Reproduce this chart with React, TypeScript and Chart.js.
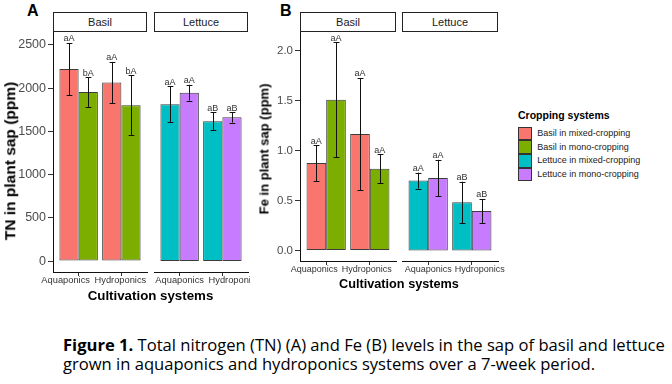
import React, { useEffect, useRef } from 'react';
import { Chart, registerables } from 'chart.js';

Chart.register(...registerables);

const FONT = "'Liberation Sans', Arial, Helvetica, sans-serif";
const CAPTION_FONT = "'Open Sans', 'Noto Sans', sans-serif";
Chart.defaults.font.family = FONT;

// ---------- data ----------
const systems = ['Aquaponics', 'Hydroponics'];
const crops = ['Basil', 'Lettuce'];
const croppingLabels = [
  'Basil in mixed-cropping',
  'Basil in mono-cropping',
  'Lettuce in mixed-cropping',
  'Lettuce in mono-cropping',
];
const croppingColors = ['#F8766D', '#7CAE00', '#00BFC4', '#C77CFF'];

// Panel A: total nitrogen (ppm)
const tnBasilMixed = [2220, 2064];
const tnBasilMono = [1955, 1802];
const tnLettuceMixed = [1813, 1617];
const tnLettuceMono = [1948, 1663];
const tnBasilMixedErr = [303, 239];
const tnBasilMonoErr = [172, 345];
const tnLettuceMixedErr = [206, 103];
const tnLettuceMonoErr = [91, 61];
const tnBasilMixedSig = ['aA', 'aA'];
const tnBasilMonoSig = ['bA', 'bA'];
const tnLettuceMixedSig = ['aA', 'aB'];
const tnLettuceMonoSig = ['aA', 'aB'];
const tnTicks = [0, 500, 1000, 1500, 2000, 2500];

// Panel B: Fe (ppm)
const feBasilMixed = [0.876, 1.167];
const feBasilMono = [1.51, 0.82];
const feLettuceMixed = [0.701, 0.483];
const feLettuceMono = [0.727, 0.397];
const feBasilMixedErr = [0.18, 0.562];
const feBasilMonoErr = [0.575, 0.145];
const feLettuceMixedErr = [0.08, 0.207];
const feLettuceMonoErr = [0.182, 0.12];
const feBasilMixedSig = ['aA', 'aA'];
const feBasilMonoSig = ['aA', 'aA'];
const feLettuceMixedSig = ['aA', 'aB'];
const feLettuceMonoSig = ['aA', 'aB'];
const feTicks = [0, 0.5, 1.0, 1.5, 2.0];

const captionBold = 'Figure 1.';
const captionLine1 = ' Total nitrogen (TN) (A) and Fe (B) levels in the sap of basil and lettuce';
const captionLine2 = 'grown in aquaponics and hydroponics systems over a 7-week period.';

type Series = { label: string; color: string; values: number[]; errors: number[]; sig: string[] };

const tnBasil: Series[] = [
  { label: croppingLabels[0], color: croppingColors[0], values: tnBasilMixed, errors: tnBasilMixedErr, sig: tnBasilMixedSig },
  { label: croppingLabels[1], color: croppingColors[1], values: tnBasilMono, errors: tnBasilMonoErr, sig: tnBasilMonoSig },
];
const tnLettuce: Series[] = [
  { label: croppingLabels[2], color: croppingColors[2], values: tnLettuceMixed, errors: tnLettuceMixedErr, sig: tnLettuceMixedSig },
  { label: croppingLabels[3], color: croppingColors[3], values: tnLettuceMono, errors: tnLettuceMonoErr, sig: tnLettuceMonoSig },
];
const feBasil: Series[] = [
  { label: croppingLabels[0], color: croppingColors[0], values: feBasilMixed, errors: feBasilMixedErr, sig: feBasilMixedSig },
  { label: croppingLabels[1], color: croppingColors[1], values: feBasilMono, errors: feBasilMonoErr, sig: feBasilMonoSig },
];
const feLettuce: Series[] = [
  { label: croppingLabels[2], color: croppingColors[2], values: feLettuceMixed, errors: feLettuceMixedErr, sig: feLettuceMixedSig },
  { label: croppingLabels[3], color: croppingColors[3], values: feLettuceMono, errors: feLettuceMonoErr, sig: feLettuceMonoSig },
];

// ggplot-like 5% expansion of the data range (incl. error bars and zero)
function expandedRange(all: Series[]): [number, number] {
  const tops = all.flatMap((s) => s.values.map((v, i) => v + s.errors[i]));
  const bots = all.flatMap((s) => s.values.map((v, i) => v - s.errors[i]));
  const mx = Math.max(0, ...tops);
  const mn = Math.min(0, ...bots);
  const pad = (mx - mn) * 0.05;
  return [mn - pad, mx + pad];
}

// caption font size chosen so that the first line spans the target width
function fitCaptionSize(target: number): number {
  const c = document.createElement('canvas').getContext('2d');
  if (!c) return 16;
  c.font = `700 20px ${CAPTION_FONT}`;
  const wb = c.measureText(captionBold).width;
  c.font = `400 20px ${CAPTION_FONT}`;
  const wr = c.measureText(captionLine1).width;
  const w = wb + wr;
  return w > 0 ? (20 * target) / w : 16;
}

// ---------- plugins ----------
const errorBarPlugin = {
  id: 'errorBars',
  afterDatasetsDraw(chart: any) {
    const { ctx } = chart;
    const y = chart.scales.y;
    chart.data.datasets.forEach((ds: any, i: number) => {
      const meta = chart.getDatasetMeta(i);
      meta.data.forEach((bar: any, j: number) => {
        const v = ds.data[j];
        const e = ds.errors[j];
        const yt = y.getPixelForValue(v + e);
        const yb = y.getPixelForValue(v - e);
        const x = Math.round(bar.x) + 0.5;
        const cap = bar.width * 0.15;
        ctx.save();
        ctx.strokeStyle = '#111';
        ctx.lineWidth = 1;
        ctx.beginPath();
        ctx.moveTo(x, yt);
        ctx.lineTo(x, yb);
        ctx.moveTo(x - cap, Math.round(yt) + 0.5);
        ctx.lineTo(x + cap, Math.round(yt) + 0.5);
        ctx.moveTo(x - cap, Math.round(yb) + 0.5);
        ctx.lineTo(x + cap, Math.round(yb) + 0.5);
        ctx.stroke();
        ctx.fillStyle = '#333';
        ctx.font = `9px ${FONT}`;
        ctx.textAlign = 'center';
        ctx.textBaseline = 'alphabetic';
        ctx.fillText(ds.sig[j], bar.x, yt - 1.5);
        ctx.restore();
      });
    });
  },
};

const xLabelPlugin = {
  id: 'xLabels',
  afterDraw(chart: any, _args: any, opts: any) {
    const { ctx } = chart;
    const xs = chart.scales.x;
    ctx.save();
    ctx.fillStyle = '#333';
    ctx.font = `${opts.size}px ${FONT}`;
    ctx.textAlign = 'center';
    ctx.textBaseline = 'alphabetic';
    chart.data.labels.forEach((lab: string, i: number) => {
      const px = xs.getPixelForTick(i) + (opts.shifts[i] || 0);
      ctx.fillText(lab, px, chart.chartArea.bottom + opts.baseline);
    });
    ctx.restore();
  },
};

// ---------- components ----------
type FacetProps = {
  x0: number; x1: number; y0: number; y1: number; axisW: number;
  series: Series[]; range: [number, number]; yTicks: number[]; showY: boolean;
  yTickSize: number; decimals: number; xShift: number[]; xFont: number; xBase: number;
};

function Facet(p: FacetProps) {
  const ref = useRef<HTMLCanvasElement>(null);
  const padR = 18;
  const padB = 18;
  const w = p.axisW + (p.x1 - p.x0) + padR;
  const h = p.y1 - p.y0 + padB;
  useEffect(() => {
    const chart = new Chart(ref.current as HTMLCanvasElement, {
      type: 'bar',
      data: {
        labels: systems,
        datasets: p.series.map((s) => ({
          label: s.label,
          data: s.values,
          errors: s.errors,
          sig: s.sig,
          backgroundColor: s.color,
          borderColor: '#3c3c3c',
          borderWidth: 1,
          borderSkipped: false,
          categoryPercentage: 0.9,
          barPercentage: 1.0,
        })) as any,
      },
      options: {
        responsive: false,
        animation: false,
        devicePixelRatio: 1,
        layout: { padding: { left: 0, top: 0, right: padR, bottom: 0 } },
        plugins: {
          legend: { display: false },
          tooltip: { enabled: false },
          xLabels: { shifts: p.xShift, size: p.xFont, baseline: p.xBase },
        } as any,
        scales: {
          x: {
            type: 'category',
            offset: true,
            grid: { display: true, drawOnChartArea: false, drawTicks: true, tickLength: 4, color: '#333', offset: false },
            border: { display: true, color: '#111', width: 1 },
            ticks: { display: false },
            afterBuildTicks: (s: any) => {
              // ggplot discrete expansion: 0.6 units on each side
              s._startValue = -0.6;
              s._valueRange = systems.length - 1 + 1.2;
            },
            afterFit: (s: any) => {
              s.height = padB;
              s.paddingLeft = 0;
              s.paddingRight = 0;
            },
          },
          y: {
            display: p.showY,
            min: p.range[0],
            max: p.range[1],
            afterBuildTicks: (s: any) => {
              s.ticks = p.yTicks.map((v) => ({ value: v }));
            },
            grid: { display: true, drawOnChartArea: false, drawTicks: true, tickLength: 5, color: '#333' },
            border: { display: true, color: '#111', width: 1 },
            ticks: {
              color: '#4d4d4d',
              font: { size: p.yTickSize },
              padding: 2,
              autoSkip: false,
              callback: (v: any) => Number(v).toFixed(p.decimals),
            },
            afterFit: (s: any) => {
              s.width = p.showY ? p.axisW : 0;
              s.paddingTop = 0;
              s.paddingBottom = 0;
            },
          },
        } as any,
      },
      plugins: [errorBarPlugin, xLabelPlugin],
    });
    return () => chart.destroy();
  }, []);
  return (
    <canvas
      ref={ref}
      width={w}
      height={h}
      style={{ position: 'absolute', left: p.x0 - p.axisW, top: p.y0, width: w, height: h }}
    />
  );
}

function Txt(props: {
  x: number; base: number; size: number; bold?: boolean; anchor?: 'start' | 'middle';
  color?: string; children: React.ReactNode;
}) {
  const { x, base, size, bold, anchor = 'start', color = '#000' } = props;
  return (
    <div
      style={{
        position: 'absolute',
        left: x,
        top: base - 0.8465 * size,
        fontSize: size,
        lineHeight: `${size}px`,
        fontWeight: bold ? 700 : 400,
        fontFamily: FONT,
        color,
        whiteSpace: 'nowrap',
        transform: anchor === 'middle' ? 'translateX(-50%)' : undefined,
      }}
    >
      {props.children}
    </div>
  );
}

function VTitle(props: { cx: number; cy: number; size: number; children: React.ReactNode }) {
  return (
    <div
      style={{
        position: 'absolute',
        left: props.cx,
        top: props.cy,
        fontSize: props.size,
        lineHeight: `${props.size}px`,
        fontWeight: 700,
        fontFamily: FONT,
        color: '#000',
        whiteSpace: 'nowrap',
        transform: 'translate(-50%, -50%) rotate(-90deg)',
      }}
    >
      {props.children}
    </div>
  );
}

function Strip(props: { x0: number; x1: number; label: string }) {
  return (
    <div
      style={{
        position: 'absolute',
        left: props.x0,
        top: 12,
        width: props.x1 - props.x0,
        height: 20,
        boxSizing: 'border-box',
        border: '1px solid #222',
        background: '#fff',
        display: 'flex',
        alignItems: 'center',
        justifyContent: 'center',
        fontFamily: FONT,
        fontSize: 11,
        lineHeight: '11px',
        color: '#1a1a1a',
      }}
    >
      {props.label}
    </div>
  );
}

export default function App() {
  const rangeA = expandedRange([...tnBasil, ...tnLettuce]);
  const rangeB = expandedRange([...feBasil, ...feLettuce]);
  const capSize = fitCaptionSize(602);
  return (
    <div
      style={{
        position: 'fixed',
        left: 0,
        top: 0,
        width: 672,
        height: 384,
        background: '#fff',
        overflow: 'hidden',
        fontFamily: FONT,
      }}
    >
      {/* Panel A */}
      <div style={{ position: 'absolute', left: 0, top: 0, width: 250, height: 384, overflow: 'hidden' }}>
        <Txt x={27} base={16.5} size={16} bold>A</Txt>
        <Strip x0={53} x1={147} label={crops[0]} />
        <Strip x0={154} x1={248} label={crops[1]} />
        <Facet x0={53} x1={147} y0={32} y1={272} axisW={53} series={tnBasil} range={rangeA} yTicks={tnTicks}
          showY yTickSize={12.5} decimals={0} xShift={[-13, -1]} xFont={9.3} xBase={11} />
        <Facet x0={154} x1={248} y0={32} y1={272} axisW={0} series={tnLettuce} range={rangeA} yTicks={tnTicks}
          showY={false} yTickSize={12.5} decimals={0} xShift={[0, 12]} xFont={9.3} xBase={11} />
        <VTitle cx={9.5} cy={161} size={15.5}>TN in plant sap (ppm)</VTitle>
        <Txt x={150.5} base={300.7} size={13.3} bold anchor="middle">Cultivation systems</Txt>
      </div>

      {/* Panel B */}
      <Txt x={280} base={16.5} size={16} bold>B</Txt>
      <Strip x0={300} x1={396} label={crops[0]} />
      <Strip x0={402} x1={498} label={crops[1]} />
      <Facet x0={300} x1={396} y0={32} y1={261} axisW={50} series={feBasil} range={rangeB} yTicks={feTicks}
        showY yTickSize={11.5} decimals={1} xShift={[-12, -3]} xFont={9} xBase={10.7} />
      <Facet x0={402} x1={498} y0={32} y1={261} axisW={0} series={feLettuce} range={rangeB} yTicks={feTicks}
        showY={false} yTickSize={11.5} decimals={1} xShift={[0, 8]} xFont={9} xBase={10.7} />
      <VTitle cx={263.5} cy={149} size={13}>Fe in plant sap (ppm)</VTitle>
      <Txt x={399} base={288.3} size={12.7} bold anchor="middle">Cultivation systems</Txt>

      {/* Legend */}
      <Txt x={518} base={119.3} size={10.5} bold>Cropping systems</Txt>
      {croppingLabels.map((lab, i) => (
        <React.Fragment key={lab}>
          <div
            style={{
              position: 'absolute',
              left: 518,
              top: 126.5 + i * 13.7,
              width: 14,
              height: 13.7,
              boxSizing: 'border-box',
              border: '1px solid #333',
              background: croppingColors[i],
            }}
          />
          <Txt x={537.3} base={126.5 + i * 13.7 + 6.85 + 3.2} size={9} color="#1a1a1a">{lab}</Txt>
        </React.Fragment>
      ))}

      {/* Caption */}
      <div
        style={{
          position: 'absolute',
          left: 63,
          top: 336,
          fontFamily: CAPTION_FONT,
          fontSize: capSize,
          lineHeight: '18.7px',
          color: '#000',
          whiteSpace: 'pre',
        }}
      >
        <b>{captionBold}</b>
        {captionLine1}
        <br />
        {captionLine2}
      </div>
    </div>
  );
}
